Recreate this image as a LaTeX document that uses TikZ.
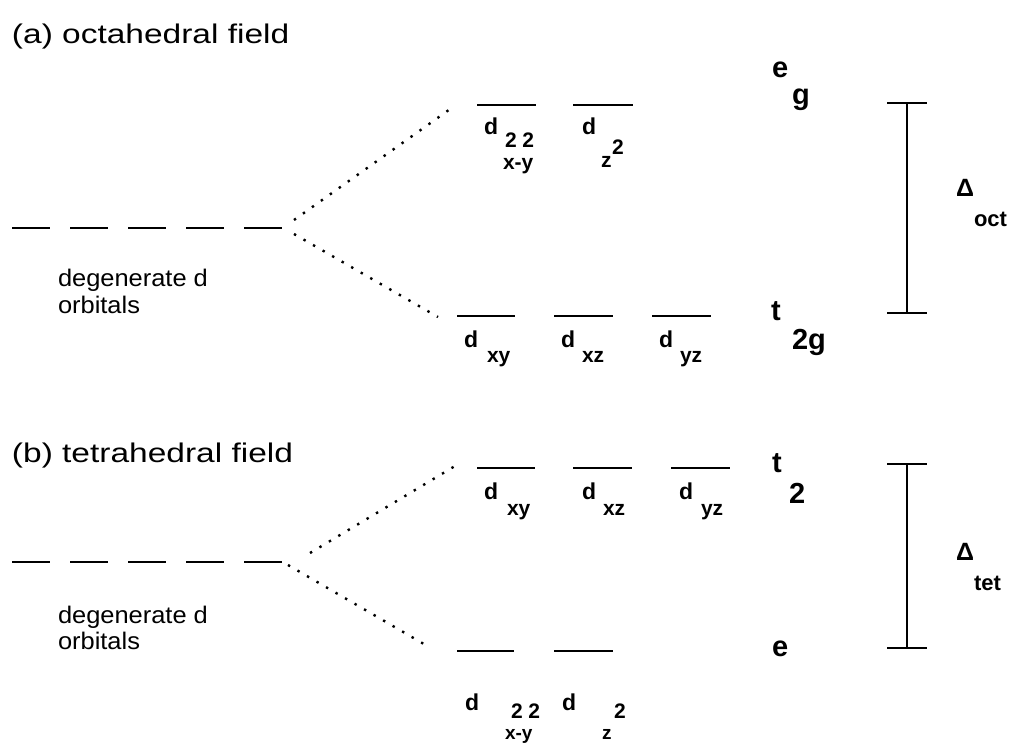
\documentclass[tikz,border=0pt]{standalone}
\usepackage{fontspec}
\setmainfont{Liberation Sans}
\newfontfamily\titlef{Liberation Sans}[FakeStretch=1.24]
\newfontfamily\degf{Liberation Sans}[FakeStretch=1.06]
\begin{document}
\begin{tikzpicture}[x=1pt,y=-1pt,
  every node/.style={inner sep=0pt, outer sep=0pt, anchor=base west},
  ttl/.style={font=\titlef\fontsize{27}{30}\selectfont},
  deg/.style={font=\degf\fontsize{24}{26}\selectfont},
  dl/.style={font=\fontsize{23}{23}\selectfont\bfseries},
  sl/.style={font=\fontsize{21}{21}\selectfont\bfseries},
  slb/.style={font=\fontsize{19}{19}\selectfont\bfseries},
  big/.style={font=\fontsize{29}{29}\selectfont\bfseries},
  dlt/.style={font=\fontsize{25}{25}\selectfont\bfseries},
  dsub/.style={font=\fontsize{22}{22}\selectfont\bfseries},
  lvl/.style={line width=1.8pt},
  degline/.style={line width=1.8pt, dash pattern=on 38pt off 20pt},
  split/.style={line width=2.4pt, dash pattern=on 2.4pt off 8.6pt},
  brk/.style={line width=2pt}]
\useasboundingbox (0,0) rectangle (1012,743);

% ---------------- (a) octahedral ----------------
\node[ttl] (ta) at (12,44) {(a) octahedral field};
\draw[degline] (12,228) coordinate (degaL) -- (283,228) coordinate (degaR);
\node[deg] (dega1) at (58,287) {degenerate d};
\node[deg] (dega2) at (58,313) {orbitals};

\coordinate (sau0) at (294,220); \coordinate (sau1) at (453,107);
\coordinate (sad0) at (294,234); \coordinate (sad1) at (438,317);
\draw[split] (sau0) -- (sau1);
\draw[split] (sad0) -- (sad1);

% e_g levels
\draw[lvl] (477,105) coordinate (ega1) -- (536,105) coordinate (ega1r);
\draw[lvl] (573,105) coordinate (ega2) -- (633,105) coordinate (ega2r);
\node[dl] (da1) at (484,135) {d};
\node[sl] (da1s) at (505,148) {2 2};
\node[sl] (da1x) at (503,170) {x-y};
\node[dl] (da2) at (582,135) {d};
\node[sl] (da2z) at (601,168) {z};
\node[sl] (da2s) at (612,155) {2};
\node[big] (ega) at (772,78) {e};
\node[big] (egb) at (792,105) {g};

% t_2g levels
\draw[lvl] (457,316) coordinate (tga1) -- (515,316) coordinate (tga1r);
\draw[lvl] (554,316) coordinate (tga2) -- (613,316) coordinate (tga2r);
\draw[lvl] (652,316) coordinate (tga3) -- (711,316) coordinate (tga3r);
\node[dl] (dxya) at (464,348) {d};
\node[sl] (dxyas) at (487,362) {xy};
\node[dl] (dxza) at (561,348) {d};
\node[sl] (dxzas) at (582,362) {xz};
\node[dl] (dyza) at (659,348) {d};
\node[sl] (dyzas) at (680,362) {yz};
\node[big] (tga) at (771,320) {t};
\node[big] (tgb) at (792,349) {2g};

% Delta_oct bracket
\coordinate (boT) at (907,103); \coordinate (boB) at (907,313);
\draw[brk] (887,103) -- (927,103);
\draw[brk] (887,313) -- (927,313);
\draw[brk] (boT) -- (boB);
\node[dlt] (Do) at (956,197) {Δ};
\node[dsub] (Dos) at (974,227) {oct};

% ---------------- (b) tetrahedral ----------------
\node[ttl] (tb) at (12,462) {(b) tetrahedral field};
\draw[degline] (12,562) coordinate (degbL) -- (283,562) coordinate (degbR);
\node[deg] (degb1) at (58,623) {degenerate d};
\node[deg] (degb2) at (58,649) {orbitals};

\coordinate (sbu0) at (310,553); \coordinate (sbu1) at (455,466);
\coordinate (sbd0) at (288,565); \coordinate (sbd1) at (429,647);
\draw[split] (sbu0) -- (sbu1);
\draw[split] (sbd0) -- (sbd1);

% t_2 levels
\draw[lvl] (477,468) coordinate (t2a) -- (535,468) coordinate (t2ar);
\draw[lvl] (573,468) coordinate (t2b) -- (632,468) coordinate (t2br);
\draw[lvl] (671,468) coordinate (t2c) -- (730,468) coordinate (t2cr);
\node[dl] (dxyb) at (484,499) {d};
\node[sl] (dxybs) at (507,515) {xy};
\node[dl] (dxzb) at (582,499) {d};
\node[sl] (dxzbs) at (603,515) {xz};
\node[dl] (dyzb) at (679,499) {d};
\node[sl] (dyzbs) at (701,515) {yz};
\node[big] (t2l) at (772,472) {t};
\node[big] (t2n) at (789,503) {2};

% e levels
\draw[lvl] (457,651) coordinate (eb1) -- (514,651) coordinate (eb1r);
\draw[lvl] (554,651) coordinate (eb2) -- (613,651) coordinate (eb2r);
\node[big] (el) at (772,656) {e};
\node[dl] (db1) at (465,710) {d};
\node[sl] (db1s) at (511,718) {2 2};
\node[slb] (db1x) at (505,739) {x-y};
\node[dl] (db2) at (562,710) {d};
\node[slb] (db2z) at (602,739) {z};
\node[sl] (db2s) at (614,718) {2};

% Delta_tet bracket
\coordinate (btT) at (907,464); \coordinate (btB) at (907,648);
\draw[brk] (887,464) -- (927,464);
\draw[brk] (887,648) -- (927,648);
\draw[brk] (btT) -- (btB);
\node[dlt] (Dt) at (956,560) {Δ};
\node[dsub] (Dts) at (974,590) {tet};
\end{tikzpicture}
\end{document}
